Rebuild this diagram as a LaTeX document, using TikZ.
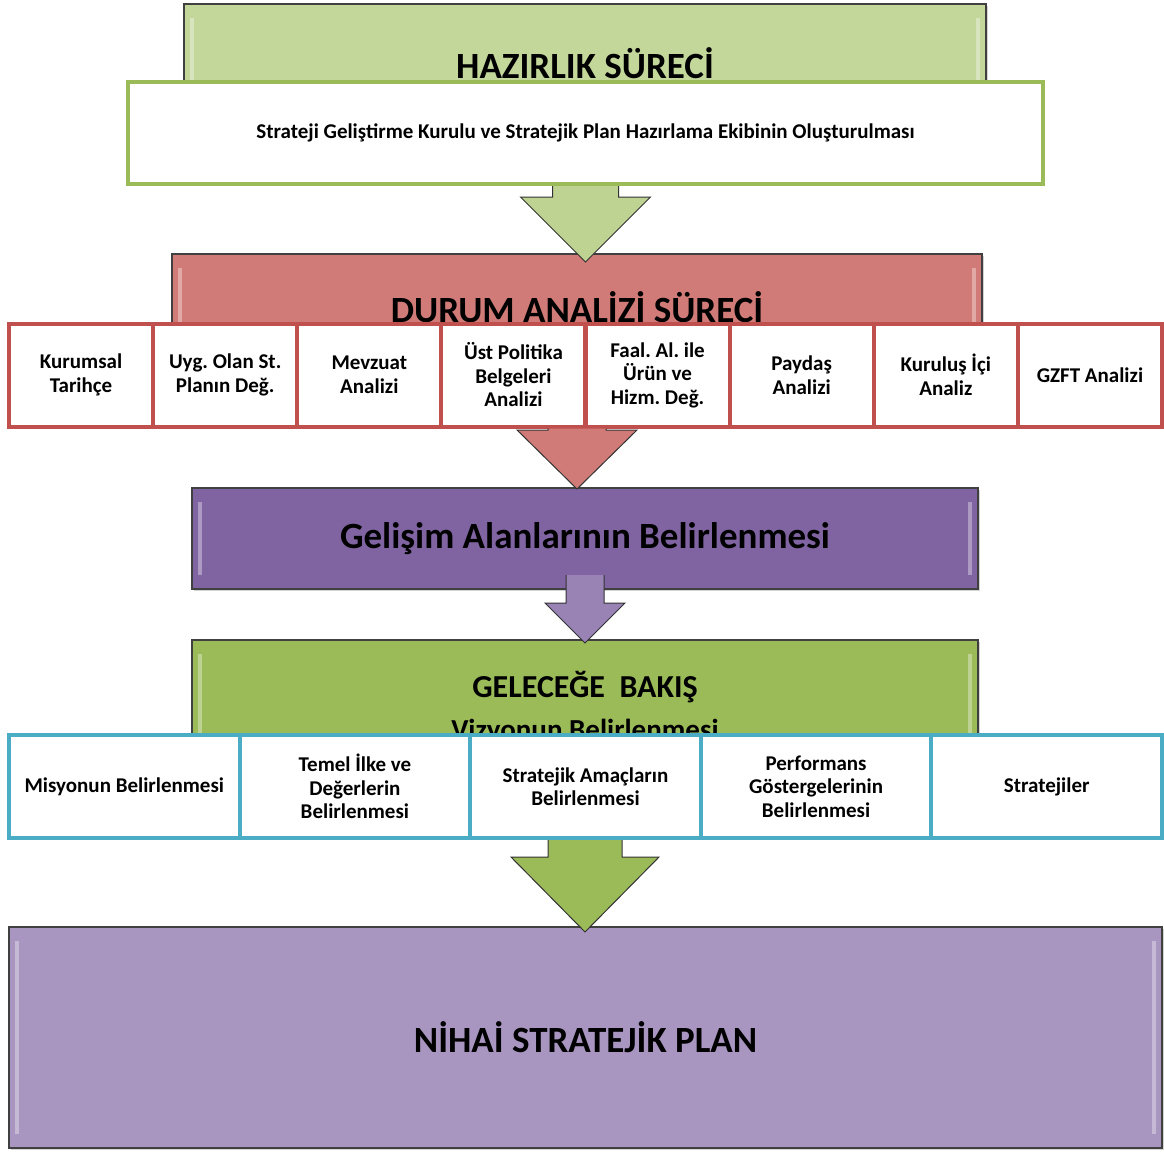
\documentclass[tikz,border=0pt]{standalone}
\usepackage{fontspec}
\setmainfont{Carlito}
\frenchspacing
\usetikzlibrary{calc,shadows}

\definecolor{hazgreen}{HTML}{C4D79B}
\definecolor{durred}{HTML}{D07B77}
\definecolor{gelpurple}{HTML}{8064A2}
\definecolor{bakgreen}{HTML}{9BBB59}
\definecolor{nihpurple}{HTML}{A895C0}
\definecolor{cellred}{HTML}{C0504D}
\definecolor{cellblue}{HTML}{4BACC6}

\newcommand{\blockarrow}[6]{
	\path[#1] let \p1=(#2), \p2=(#3) in (\x2-#4pt,\y1) -- (\x2-#4pt,\y2+#6pt) -- (\x2-#5pt,\y2+#6pt) -- (\p2) -- (\x2+#5pt,\y2+#6pt) -- (\x2+#4pt,\y2+#6pt) -- (\x2+#4pt,\y1) -- cycle;
	\draw[arrowline] let \p1=(#2), \p2=(#3) in (\x2-#4pt,\y1) -- (\x2-#4pt,\y2+#6pt) -- (\x2-#5pt,\y2+#6pt) -- (\p2) -- (\x2+#5pt,\y2+#6pt) -- (\x2+#4pt,\y2+#6pt) -- (\x2+#4pt,\y1);
}

\tikzset{
	bevel/.style={path picture={
		\fill[white,opacity=0.35] ([xshift=6pt,yshift=-14pt]path picture bounding box.north west) rectangle ([xshift=10pt,yshift=14pt]path picture bounding box.south west);
		\fill[white,opacity=0.35] ([xshift=-10pt,yshift=-14pt]path picture bounding box.north east) rectangle ([xshift=-6pt,yshift=14pt]path picture bounding box.south east);
	}},
	panel/.style={draw=black!75, line width=1.2pt, inner sep=0pt, outer sep=0pt, bevel,
		drop shadow={opacity=0.35, shadow xshift=2pt, shadow yshift=-2pt}},
	title/.style={font=\fontsize{37}{44}\selectfont\bfseries, anchor=base, inner sep=0pt},
	subtitle/.style={font=\fontsize{#1}{#1}\selectfont\bfseries, anchor=base, inner sep=0pt},
	cell/.style={draw=#1, line width=4pt, fill=white, inner sep=2pt, outer sep=0pt, align=center,
		font=\fontsize{21}{23.5}\selectfont\bfseries\frenchspacing},
	redcell/.style={cell=cellred, minimum width=144.1pt, minimum height=103pt},
	bluecell/.style={cell=cellblue, minimum width=230.6pt, minimum height=103pt},
	arrowline/.style={draw=black!80, line width=1pt, line join=miter},
	arrowA/.style={left color=hazgreen!85!bakgreen, middle color=hazgreen!35, right color=hazgreen!85!bakgreen},
	arrowB/.style={left color=durred, middle color=durred!45, right color=durred},
	arrowC/.style={left color=gelpurple!80, middle color=gelpurple!30, right color=gelpurple!80},
	arrowD/.style={left color=bakgreen, middle color=bakgreen!45, right color=bakgreen}
}

\begin{document}
\begin{tikzpicture}[x=1pt,y=-1pt]
	\useasboundingbox (0,0) rectangle (1164,1151);

	\node[panel, fill=hazgreen, minimum width=802pt, minimum height=150pt] (hazirlik) at (585,79) {};
	\node[title] (hazirlikT) at (585,78) {HAZIRLIK SÜRECİ};
	\node[draw=bakgreen, line width=4pt, fill=white, minimum width=915pt, minimum height=102pt, outer sep=0pt,
		font=\fontsize{21}{24}\selectfont\bfseries] (prep) at (585.5,133) {Strateji Geliştirme Kurulu ve Stratejik Plan Hazırlama Ekibinin Oluşturulması};

	\node[panel, fill=durred, minimum width=810pt, minimum height=150pt] (durum) at (577,329) {};
	\node[title] (durumT) at (577,322) {DURUM ANALİZİ SÜRECİ};
	\blockarrow{arrowA}{$(prep.south)+(0,2)$}{$(prep.south |- durum.north)+(0,8)$}{33}{65}{65}

	\foreach \t [count=\i] in {Kurumsal\\Tarihçe, Uyg. Olan St.\\Planın Değ., Mevzuat\\Analizi, Üst Politika\\Belgeleri\\Analizi,
		Faal. Al. ile\\Ürün ve\\Hizm. Değ., Paydaş\\Analizi, Kuruluş İçi\\Analiz, GZFT Analizi}
		\node[redcell] (r\i) at ({9+(\i-0.5)*144.125},375) {\t};

	\node[panel, fill=gelpurple, minimum width=786pt, minimum height=101pt, font=\fontsize{37}{44}\selectfont\bfseries] (gelisim) at (585,538.5) {Gelişim Alanlarının Belirlenmesi};
	\blockarrow{arrowB}{$(durum.center |- r4.south)+(0,2)$}{$(durum.center |- gelisim.north)+(0,1)$}{29}{60}{59}

	\node[panel, fill=bakgreen, minimum width=786pt, minimum height=160pt] (gelecek) at (585,720) {};
	\node[subtitle=32] (gelecekT) at (585,697) {GELECEĞE\ \ BAKIŞ};
	\node[subtitle=29] (vizyon) at (585,739) {Vizyonun Belirlenmesi};
	\blockarrow{arrowC}{$(gelisim.south)+(0,-14)$}{$(gelisim.south |- gelecek.north)+(0,3)$}{19}{40}{40}

	\foreach \t [count=\i] in {Misyonun Belirlenmesi, Temel İlke ve\\Değerlerin\\Belirlenmesi, Stratejik Amaçların\\Belirlenmesi,
		Performans\\Göstergelerinin\\Belirlenmesi, Stratejiler}
		\node[bluecell] (b\i) at ({9+(\i-0.5)*230.6},786.5) {\t};

	\node[panel, fill=nihpurple, minimum width=1153pt, minimum height=221pt, font=\fontsize{37}{44}\selectfont\bfseries] (nihai) at (585.5,1037.5) {NİHAİ STRATEJİK PLAN};
	\blockarrow{arrowD}{$(gelecek.center |- b3.south)+(0,2)$}{$(gelecek.center |- nihai.north)+(0,5)$}{37}{74}{75}
\end{tikzpicture}
\end{document}
